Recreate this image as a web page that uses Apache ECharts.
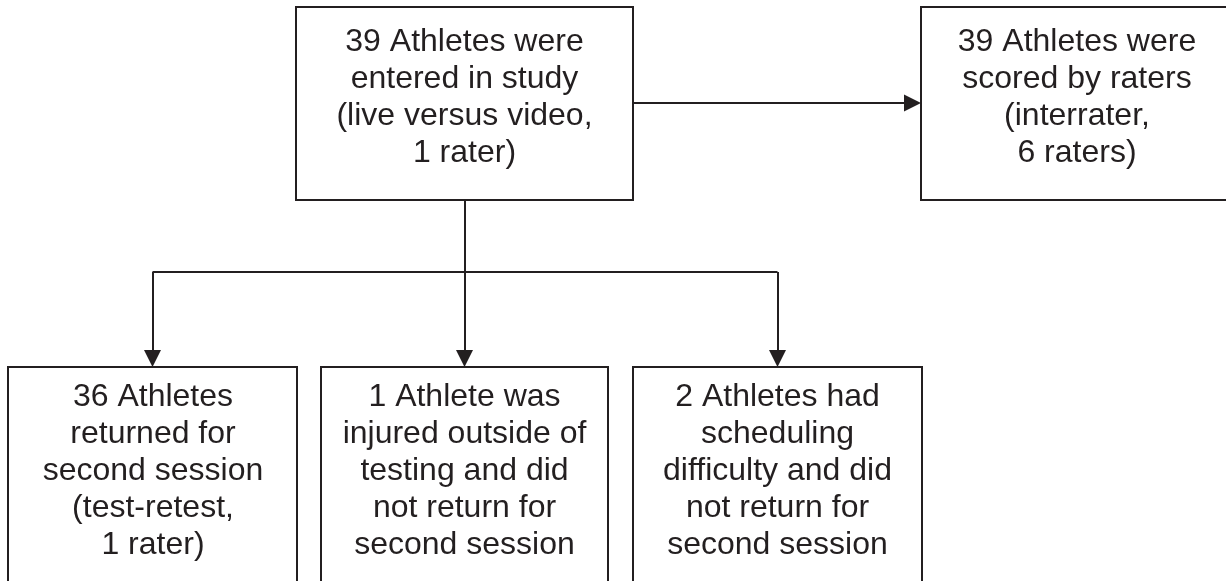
<!DOCTYPE html>
<html>
<head>
<meta charset="utf-8">
<script src="https://cdn.jsdelivr.net/npm/echarts@6/dist/echarts.min.js"></script>
<style>
html,body{margin:0;padding:0;background:#fff;}
#chart{width:1226px;height:581px;}
</style>
</head>
<body>
<div id="chart"></div>
<script>
// ---- Data: box texts (flow diagram content) ----
const boxIds = ['entered', 'scored', 'returned', 'injured', 'scheduling'];
const boxLabels = [
  '39 Athletes were\nentered in study\n(live versus video,\n1 rater)',
  '39 Athletes were\nscored by raters\n(interrater,\n6 raters)',
  '36 Athletes\nreturned for\nsecond session\n(test-retest,\n1 rater)',
  '1 Athlete was\ninjured outside of\ntesting and did\nnot return for\nsecond session',
  '2 Athletes had\nscheduling\ndifficulty and did\nnot return for\nsecond session'
];
// connections: from -> to
const links = [
  ['entered', 'scored'],
  ['entered', 'returned'],
  ['entered', 'injured'],
  ['entered', 'scheduling']
];

// ---- Layout (pixel space of the diagram) ----
const layout = {
  entered:    {x0: 296, y0: 7,   x1: 633,  y1: 200, tx: 464.5, ty: 98},
  scored:     {x0: 921, y0: 7,   x1: 1234, y1: 200, tx: 1077,  ty: 98},
  returned:   {x0: 8,   y0: 367, x1: 297,  y1: 600, tx: 153,   ty: 471.5},
  injured:    {x0: 321, y0: 367, x1: 608,  y1: 600, tx: 464.5, ty: 471.5},
  scheduling: {x0: 633, y0: 367, x1: 922,  y1: 600, tx: 777.5, ty: 471.5}
};
const busY = 272;
const arrowLen = 17, arrowW = 19;
const ink = '#231f20';

const boxData = boxIds.map((id, i) => {
  const b = layout[id];
  return [b.x0, b.y0, b.x1, b.y1, b.tx, b.ty, i];
});

// connector geometry
const plainSegs = [];
const arrowSegs = [];
links.forEach(([f, t]) => {
  const a = layout[f], b = layout[t];
  if (b.y0 < a.y1) {
    const y = 103;
    arrowSegs.push({coords: [[a.x1, y], [b.x0 - arrowLen / 2, y]]});
  } else {
    const ax = (a.x0 + a.x1) / 2;
    const bx = (b.x0 + b.x1) / 2;
    plainSegs.push({coords: [[ax, a.y1], [ax, busY]]});
    plainSegs.push({coords: [[ax, busY], [bx, busY]]});
    arrowSegs.push({coords: [[bx, busY], [bx, b.y0 - arrowLen / 2]]});
  }
});

const chart = echarts.init(document.getElementById('chart'), null, {renderer: 'canvas'});
chart.setOption({
  backgroundColor: '#ffffff',
  animation: false,
  grid: {left: 0, right: 0, top: 0, bottom: 0},
  xAxis: {type: 'value', min: 0, max: 1226, show: false},
  yAxis: {type: 'value', min: 0, max: 581, inverse: true, show: false},
  series: [
    {
      type: 'custom',
      coordinateSystem: 'cartesian2d',
      data: boxData,
      clip: false,
      renderItem: function (params, api) {
        const p0 = api.coord([api.value(0), api.value(1)]);
        const p1 = api.coord([api.value(2), api.value(3)]);
        const pt = api.coord([api.value(4), api.value(5)]);
        const idx = api.value(6);
        return {
          type: 'group',
          children: [
            {
              type: 'rect',
              shape: {x: p0[0], y: p0[1], width: p1[0] - p0[0], height: p1[1] - p0[1]},
              style: {fill: '#ffffff', stroke: ink, lineWidth: 2}
            },
            {
              type: 'text',
              style: {
                text: boxLabels[idx],
                x: pt[0], y: pt[1],
                align: 'center', verticalAlign: 'middle',
                fontFamily: '"Liberation Sans", Arial, Helvetica, sans-serif',
                fontSize: 32, lineHeight: 37, fill: ink
              }
            }
          ]
        };
      }
    },
    {
      type: 'lines',
      coordinateSystem: 'cartesian2d',
      data: plainSegs,
      symbol: ['none', 'none'],
      lineStyle: {color: ink, width: 2, opacity: 1}
    },
    {
      type: 'lines',
      coordinateSystem: 'cartesian2d',
      data: arrowSegs,
      symbol: ['none', 'triangle'],
      symbolSize: [arrowW, arrowLen],
      lineStyle: {color: ink, width: 2, opacity: 1},
      itemStyle: {color: ink}
    }
  ]
});
</script>
</body>
</html>
